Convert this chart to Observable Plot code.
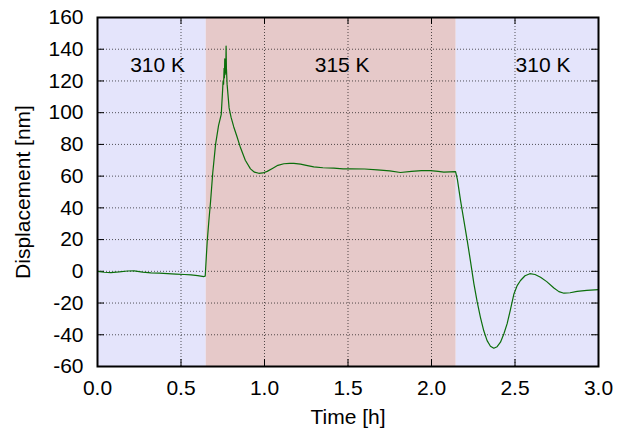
<!DOCTYPE html>
<html><head><meta charset="utf-8">
<script src="https://cdn.jsdelivr.net/npm/d3@7"></script>
<script src="https://cdn.jsdelivr.net/npm/@observablehq/plot@0.6"></script>
<style>html,body{margin:0;padding:0;background:#fff} svg{display:block}</style>
</head><body><div id="chart"></div>
<script>
const times = [0, 0.04, 0.08, 0.13, 0.18, 0.22, 0.27, 0.32, 0.37, 0.42, 0.47, 0.52, 0.56, 0.6, 0.637, 0.645, 0.657, 0.667, 0.677, 0.69, 0.707, 0.725, 0.741, 0.748, 0.752, 0.755, 0.758, 0.76, 0.762, 0.764, 0.766, 0.768, 0.77, 0.772, 0.776, 0.788, 0.8, 0.816, 0.835, 0.856, 0.885, 0.916, 0.94, 0.966, 0.99, 1.016, 1.05, 1.08, 1.116, 1.15, 1.176, 1.216, 1.25, 1.295, 1.35, 1.415, 1.47, 1.515, 1.6, 1.675, 1.75, 1.814, 1.88, 1.94, 1.994, 2.04, 2.074, 2.11, 2.144, 2.155, 2.174, 2.194, 2.214, 2.234, 2.254, 2.273, 2.293, 2.313, 2.333, 2.353, 2.373, 2.393, 2.413, 2.433, 2.453, 2.473, 2.493, 2.513, 2.533, 2.56, 2.589, 2.62, 2.653, 2.69, 2.733, 2.763, 2.793, 2.83, 2.872, 2.93, 3.0];
const displacement = [0, -0.6, -0.8, -0.4, 0.2, 0.3, -0.5, -1.0, -1.2, -1.5, -1.8, -2.0, -2.3, -2.7, -3.3, -3.0, 19, 32, 44, 62, 80, 92, 99, 112, 120, 118, 128, 122, 134, 124, 133, 125, 142, 128, 118, 103, 97, 91, 85, 78, 70, 64.6, 62.5, 61.8, 62, 63, 65, 66.8, 67.8, 68, 68, 67.6, 66.8, 65.8, 65.3, 65, 64.6, 64.6, 64.5, 64, 63.3, 62.3, 63, 63.5, 63.5, 63, 62.5, 62.7, 62.9, 58, 44.6, 32, 19.4, 6, -7.9, -19, -29, -37.5, -43.7, -47.2, -48.5, -47.5, -44.7, -39.5, -33, -24, -14.5, -9, -5.8, -2.8, -1.5, -2, -3.7, -6.5, -10.5, -12.8, -13.8, -13.5, -12.6, -12, -11.5];

const phaseStart = [0, 0.651, 2.148];
const phaseEnd = [0.651, 2.148, 3.0];
const phaseLabel = ["310 K", "315 K", "310 K"];
const phaseLabelX = [0.36, 1.465, 2.668];
const phaseLabelY = [130, 130, 130];
const phaseColor = ["#e4e4fb", "#e6c9c9", "#e4e4fb"];

const xTicks = [0, 0.5, 1.0, 1.5, 2.0, 2.5, 3.0];
const yTicks = [-60, -40, -20, 0, 20, 40, 60, 80, 100, 120, 140, 160];
const xDomain = [0, 3];
const yDomain = [-60, 160];

const series = times.map((t, i) => ({t, v: displacement[i]}));
const phases = phaseStart.map((s, i) => ({s, e: phaseEnd[i], label: phaseLabel[i], lx: phaseLabelX[i], ly: phaseLabelY[i], color: phaseColor[i]}));

const tickLenX = 0.042, tickLenY = 4.4;
const gridStyle = {stroke: "#000", strokeOpacity: 0.65, strokeDasharray: "1,2", strokeWidth: 1};

const chart = Plot.plot({
  width: 622, height: 430,
  marginLeft: 97, marginRight: 24, marginTop: 17, marginBottom: 64,
  style: {fontFamily: "'Liberation Sans', Arial, Helvetica, sans-serif", fontSize: "21px", color: "#000", background: "#fff"},
  x: {domain: xDomain},
  y: {domain: yDomain},
  marks: [
    Plot.rect(phases, {x1: "s", x2: "e", fill: "color"}),
    Plot.gridX(xTicks.slice(1, -1), gridStyle),
    Plot.gridY(yTicks.slice(1, -1), gridStyle),
    Plot.ruleX(xTicks, {x: d => d, y1: () => yDomain[0], y2: () => yDomain[0] + tickLenY, stroke: "#000", strokeWidth: 1}),
    Plot.ruleX(xTicks, {x: d => d, y1: () => yDomain[1], y2: () => yDomain[1] - tickLenY, stroke: "#000", strokeWidth: 1}),
    Plot.ruleY(yTicks, {y: d => d, x1: () => xDomain[0], x2: () => xDomain[0] + tickLenX, stroke: "#000", strokeWidth: 1}),
    Plot.ruleY(yTicks, {y: d => d, x1: () => xDomain[1], x2: () => xDomain[1] - tickLenX, stroke: "#000", strokeWidth: 1}),
    Plot.line(series, {x: "t", y: "v", stroke: "#0b6e0b", strokeWidth: 1.2}),
    Plot.text(phases, {x: "lx", y: "ly", text: "label", fontSize: 21, fill: "#000"}),
    Plot.axisX(xTicks, {tickSize: 0, tickPadding: 14, tickFormat: d3.format(".1f"), label: "Time [h]", labelAnchor: "center", labelArrow: "none", labelOffset: 57, fontSize: 21}),
    Plot.axisY(yTicks, {tickSize: 0, tickPadding: 14, tickFormat: d => String(d), label: "Displacement [nm]", labelAnchor: "center", labelArrow: "none", labelOffset: 82, fontSize: 21}),
    Plot.frame({stroke: "#000", strokeWidth: 2})
  ]
});
chart.querySelectorAll("text").forEach(t => t.style.fill = "#000");
document.getElementById("chart").appendChild(chart);
</script>
</body></html>
